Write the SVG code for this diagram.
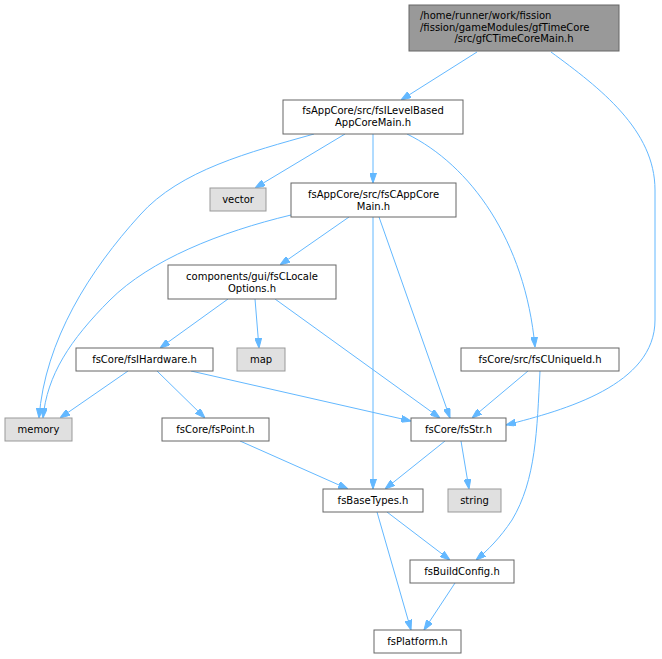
<svg xmlns="http://www.w3.org/2000/svg" width="662" height="659" viewBox="0 0 662 659">
<defs>
<style>
.n rect{fill:#ffffff;stroke:#666666;stroke-width:1}
.n.root rect{fill:#999999;stroke:#666666}
.n.ext rect{fill:#e0e0e0;stroke:#999999}
.n text{font-family:"DejaVu Sans","Liberation Sans",sans-serif;font-size:10px;fill:#000000;text-anchor:middle}
.n text.s{text-anchor:start}
.e path{fill:none;stroke:#63b8ff;stroke-width:1;marker-end:url(#ah)}
</style>
<marker id="ah" markerUnits="userSpaceOnUse" markerWidth="10" markerHeight="7" refX="10" refY="3.5" orient="auto">
<path d="M0,0 L10,3.5 L0,7 z" fill="#63b8ff" stroke="#63b8ff"/>
</marker>
</defs>
<rect width="662" height="659" fill="#ffffff"/>
<g id="edges" class="e">
<path d="M477,52 L401,100"/>
<path d="M551,52 C600,88 655,130 655,190 L655,320 C655,385 565,410 506,425"/>
<path d="M314,134 C250,152 180,170 140,215 C90,270 45,340 39,418"/>
<path d="M345,134 L255,188"/>
<path d="M373,134 L373,183"/>
<path d="M407,134 C470,165 525,240 535,347"/>
<path d="M291,215 C220,232 150,260 110,300 C70,340 47,375 43,418"/>
<path d="M349,217 L280,265"/>
<path d="M373,217 L373,489"/>
<path d="M379,217 L450,418"/>
<path d="M228,299 L160,348"/>
<path d="M255,299 L259,348"/>
<path d="M275,299 L440,418"/>
<path d="M128,371 L60,418"/>
<path d="M157,371 L205,418"/>
<path d="M191,371 L411,421"/>
<path d="M528,371 L472,418"/>
<path d="M540,371 C537,430 536,480 512,520 C500,538 488,550 476,560"/>
<path d="M240,441 L348,489"/>
<path d="M445,441 L385,489"/>
<path d="M461,441 L469,489"/>
<path d="M387,512 L450,560"/>
<path d="M377,512 L411,630"/>
<path d="M455,583 L424,630"/>
</g>
<g id="node1" class="n root">
<rect x="409" y="5" width="210" height="46"/>
<text class="s" x="420" y="19">/home/runner/work/fission</text>
<text class="s" x="420" y="30.5">/fission/gameModules/gfTimeCore</text>
<text x="514" y="42">/src/gfCTimeCoreMain.h</text>
</g>
<g id="node2" class="n">
<rect x="283" y="100" width="180" height="34"/>
<text x="373" y="114">fsAppCore/src/fsILevelBased</text>
<text x="373" y="126">AppCoreMain.h</text>
</g>
<g id="node3" class="n ext">
<rect x="210" y="188" width="56" height="23"/>
<text x="238" y="203">vector</text>
</g>
<g id="node4" class="n">
<rect x="291" y="183" width="165" height="34"/>
<text x="373.5" y="197.5">fsAppCore/src/fsCAppCore</text>
<text x="373.5" y="209.5">Main.h</text>
</g>
<g id="node5" class="n">
<rect x="168" y="265" width="168" height="34"/>
<text x="252" y="279.5">components/gui/fsCLocale</text>
<text x="252" y="291.5">Options.h</text>
</g>
<g id="node6" class="n">
<rect x="76" y="348" width="137" height="23"/>
<text x="144.5" y="363">fsCore/fsIHardware.h</text>
</g>
<g id="node7" class="n ext">
<rect x="237" y="348" width="48" height="23"/>
<text x="261" y="363">map</text>
</g>
<g id="node8" class="n">
<rect x="461" y="348" width="158" height="23"/>
<text x="540" y="363">fsCore/src/fsCUniqueId.h</text>
</g>
<g id="node9" class="n ext">
<rect x="5" y="418" width="67" height="23"/>
<text x="38.5" y="433">memory</text>
</g>
<g id="node10" class="n">
<rect x="162" y="418" width="107" height="23"/>
<text x="215.5" y="433">fsCore/fsPoint.h</text>
</g>
<g id="node11" class="n">
<rect x="411" y="418" width="95" height="23"/>
<text x="458.5" y="433">fsCore/fsStr.h</text>
</g>
<g id="node12" class="n">
<rect x="323" y="489" width="100" height="23"/>
<text x="373" y="504">fsBaseTypes.h</text>
</g>
<g id="node13" class="n ext">
<rect x="448" y="489" width="53" height="23"/>
<text x="474.5" y="504">string</text>
</g>
<g id="node14" class="n">
<rect x="410" y="560" width="104" height="23"/>
<text x="462" y="575">fsBuildConfig.h</text>
</g>
<g id="node15" class="n">
<rect x="374" y="630" width="87" height="23"/>
<text x="417.5" y="645">fsPlatform.h</text>
</g>
</svg>
